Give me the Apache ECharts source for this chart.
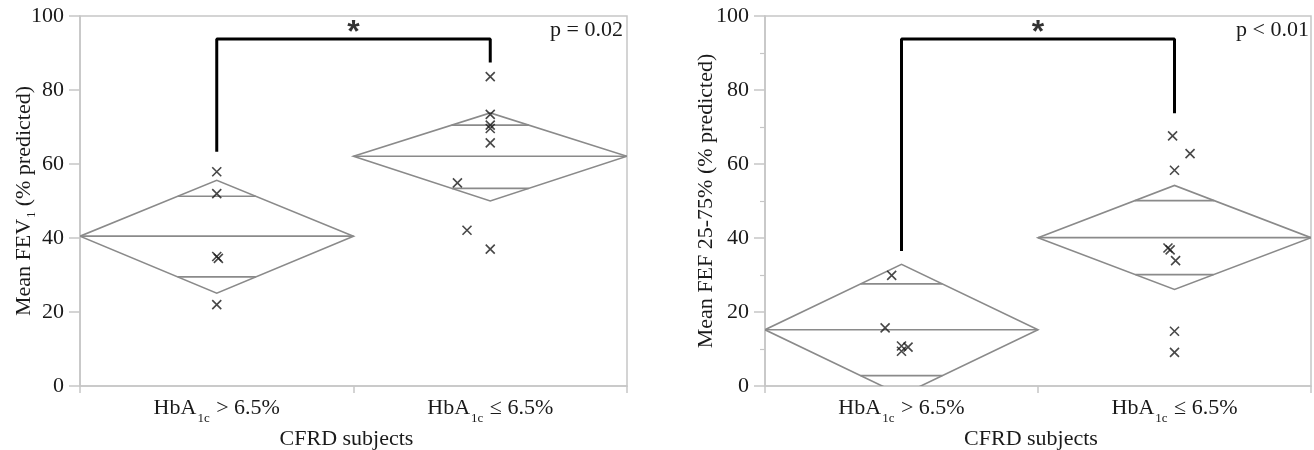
<!DOCTYPE html>
<html>
<head>
<meta charset="utf-8">
<script src="https://cdn.jsdelivr.net/npm/echarts@6/dist/echarts.min.js"></script>
<style>html,body{margin:0;padding:0;background:#fff}#c{width:1314px;height:450px}</style>
</head>
<body>
<div id="c"></div>
<script>
// ---- data ----
const categories = ['HbA1c > 6.5%', 'HbA1c ≤ 6.5%'];
const yTicks = [0, 20, 40, 60, 80, 100];

// FEV1 panel
const fev1High = [57.9, 52.0, 35.0, 34.5, 22.0];
const fev1HighJitter = [0, 0, 0, 0.006, 0];
const fev1Low = [83.6, 73.4, 70.5, 69.6, 65.7, 54.9, 42.1, 37.0];
const fev1LowJitter = [0, 0, 0, 0, 0, -0.12, -0.085, 0];
const fev1Mean = [40.5, 62.1];
const fev1CiLow = [25.1, 50.0];
const fev1CiHigh = [55.6, 73.8];
const fev1OverlapLow = [29.5, 53.4];
const fev1OverlapHigh = [51.3, 70.5];
const fev1Bracket = [63.3, 93.8, 87.4];
const fev1P = 'p = 0.02';

// FEF 25-75% panel
const fefHigh = [29.9, 15.7, 10.8, 10.5, 9.4];
const fefHighJitter = [-0.036, -0.06, 0, 0.024, 0];
const fefLow = [67.6, 62.8, 58.3, 37.3, 36.8, 33.9, 14.8, 9.1];
const fefLowJitter = [-0.007, 0.057, 0, -0.024, -0.016, 0.004, 0, 0];
const fefMean = [15.2, 40.1];
const fefCiLow = [-2.5, 26.1];
const fefCiHigh = [32.9, 54.2];
const fefOverlapLow = [2.8, 30.1];
const fefOverlapHigh = [27.6, 50.1];
const fefBracket = [36.5, 93.8, 73.7];
const fefP = 'p < 0.01';

// ---- styles ----
const FONT = 'Liberation Serif';
const FS = 22;
const TXT = '#1a1a1a';
const FRAME = '#c6c6c6';
const DIAM = '#8a8a8a';

const catRich = {
  base: {fontFamily: FONT, fontSize: FS, color: TXT, lineHeight: 26, verticalAlign: 'bottom'},
  sub: {fontFamily: FONT, fontSize: 13, color: TXT, lineHeight: 26, verticalAlign: 'bottom', padding: [0, 1, -6, 1]}
};
function catFmt(v) {
  const m = v.match(/^HbA1c (.*)$/);
  return '{base|HbA}{sub|1c}{base| ' + m[1] + '}';
}

function diamondSeries(xIdx, yIdx, means, lo, hi, olo, ohi) {
  const data = means.map((m, i) => [i, m, lo[i], hi[i], olo[i], ohi[i]]);
  return {
    type: 'custom', xAxisIndex: xIdx, yAxisIndex: yIdx, clip: true, silent: true, z: 2,
    data: data,
    renderItem: function (params, api) {
      const i = api.value(0), m = api.value(1), l = api.value(2), h = api.value(3), ol = api.value(4), oh = api.value(5);
      const L = api.coord([i, m]), R = api.coord([i + 1, m]);
      const T = api.coord([i + 0.5, h]), B = api.coord([i + 0.5, l]);
      const halfW = (R[0] - L[0]) / 2, cx = T[0];
      const st = {stroke: DIAM, lineWidth: 1.6, fill: null};
      function olLine(v, ext) {
        const t = (v - m) / (ext - m);
        const w = (1 - t) * halfW;
        const y = api.coord([i + 0.5, v])[1];
        return {type: 'line', shape: {x1: cx - w, y1: y, x2: cx + w, y2: y}, style: st};
      }
      return {
        type: 'group',
        children: [
          {type: 'polygon', shape: {points: [L, T, R, B]}, style: st},
          {type: 'line', shape: {x1: L[0], y1: L[1], x2: R[0], y2: R[1]}, style: st},
          olLine(oh, h),
          olLine(ol, l)
        ]
      };
    }
  };
}

function pointSeries(xIdx, yIdx, group, vals, jit) {
  return {
    type: 'scatter', xAxisIndex: xIdx, yAxisIndex: yIdx, z: 4, silent: true,
    symbol: 'path://M0,0L10,10M10,0L0,10', symbolSize: 9,
    itemStyle: {color: 'rgba(0,0,0,0)', borderColor: '#1a1a1a', borderWidth: 1.6},
    data: vals.map((v, k) => [group + 0.5 + jit[k], v])
  };
}

function bracketSeries(xIdx, yIdx, br) {
  return {
    type: 'line', xAxisIndex: xIdx, yAxisIndex: yIdx, z: 5, silent: true,
    symbol: 'none', lineStyle: {color: '#000', width: 3}, animation: false,
    data: [[0.5, br[0]], [0.5, br[1]], [1.5, br[1]], [1.5, br[2]]]
  };
}

function starSeries(xIdx, yIdx, br) {
  return {
    type: 'scatter', xAxisIndex: xIdx, yAxisIndex: yIdx, z: 5, silent: true,
    symbolSize: 0, data: [[1, br[1]]],
    label: {show: true, position: 'top', distance: -10, formatter: '*', fontFamily: 'Liberation Sans', fontWeight: 'bold', fontSize: 32, color: '#000'}
  };
}

function catAxis(gi) {
  return {
    type: 'category', gridIndex: gi, data: categories, boundaryGap: true,
    axisLine: {show: true, lineStyle: {color: FRAME, width: 1.5}},
    axisTick: {show: true, length: 7, lineStyle: {color: FRAME, width: 1.5}},
    axisLabel: {margin: 7, formatter: catFmt, rich: catRich},
    splitLine: {show: false},
    name: 'CFRD subjects', nameLocation: 'middle', nameGap: 42, nameMoveOverlap: false,
    nameTextStyle: {fontFamily: FONT, fontSize: FS, color: TXT, padding: [0, 14, 0, 0]}
  };
}
function valXAxis(gi) {
  return {type: 'value', gridIndex: gi, min: 0, max: 2, show: false, splitLine: {show: false}};
}
function yAxis(gi, name, rich, minor, gap) {
  return {
    type: 'value', gridIndex: gi, min: yTicks[0], max: yTicks[yTicks.length - 1], interval: yTicks[1] - yTicks[0],
    axisLine: {show: true, lineStyle: {color: FRAME, width: 1.5}},
    axisTick: {show: true, length: 11, lineStyle: {color: FRAME, width: 1.5}},
    minorTick: {show: minor, splitNumber: 2, length: 5, lineStyle: {color: FRAME, width: 1.2}},
    axisLabel: {fontFamily: FONT, fontSize: FS, color: TXT, margin: 16},
    splitLine: {show: false},
    name: name, nameLocation: 'middle', nameGap: gap, nameRotate: 90, nameMoveOverlap: false,
    nameTextStyle: {rich: rich}
  };
}
const nameRich = {
  base: {fontFamily: FONT, fontSize: FS, color: TXT, lineHeight: 26, verticalAlign: 'bottom'},
  sub: {fontFamily: FONT, fontSize: 12, color: TXT, lineHeight: 26, verticalAlign: 'bottom', padding: [0, 0, -3, 1]}
};

const chart = echarts.init(document.getElementById('c'), null, {renderer: 'canvas'});
chart.setOption({
  animation: false,
  backgroundColor: '#fff',
  grid: [
    {left: 80, top: 16, width: 547, height: 370, outerBoundsMode: 'none', containLabel: false, show: true, borderColor: FRAME, borderWidth: 1.5, backgroundColor: 'transparent'},
    {left: 765, top: 16, width: 546, height: 370, outerBoundsMode: 'none', containLabel: false, show: true, borderColor: FRAME, borderWidth: 1.5, backgroundColor: 'transparent'}
  ],
  xAxis: [catAxis(0), valXAxis(0), catAxis(1), valXAxis(1)],
  yAxis: [
    yAxis(0, '{base|Mean FEV}{sub|1}{base| (% predicted)}', nameRich, false, 45),
    yAxis(1, '{base|Mean FEF 25-75% (% predicted)}', nameRich, true, 48)
  ],
  graphic: [
    {type: 'text', right: 1314 - 623, top: 19, style: {text: fev1P, font: FS + 'px "Liberation Serif"', fill: TXT}},
    {type: 'text', right: 1314 - 1309, top: 19, style: {text: fefP, font: FS + 'px "Liberation Serif"', fill: TXT}}
  ],
  series: [
    diamondSeries(1, 0, fev1Mean, fev1CiLow, fev1CiHigh, fev1OverlapLow, fev1OverlapHigh),
    pointSeries(1, 0, 0, fev1High, fev1HighJitter),
    pointSeries(1, 0, 1, fev1Low, fev1LowJitter),
    bracketSeries(1, 0, fev1Bracket),
    starSeries(1, 0, fev1Bracket),
    diamondSeries(3, 1, fefMean, fefCiLow, fefCiHigh, fefOverlapLow, fefOverlapHigh),
    pointSeries(3, 1, 0, fefHigh, fefHighJitter),
    pointSeries(3, 1, 1, fefLow, fefLowJitter),
    bracketSeries(3, 1, fefBracket),
    starSeries(3, 1, fefBracket)
  ]
});
</script>
</body>
</html>
